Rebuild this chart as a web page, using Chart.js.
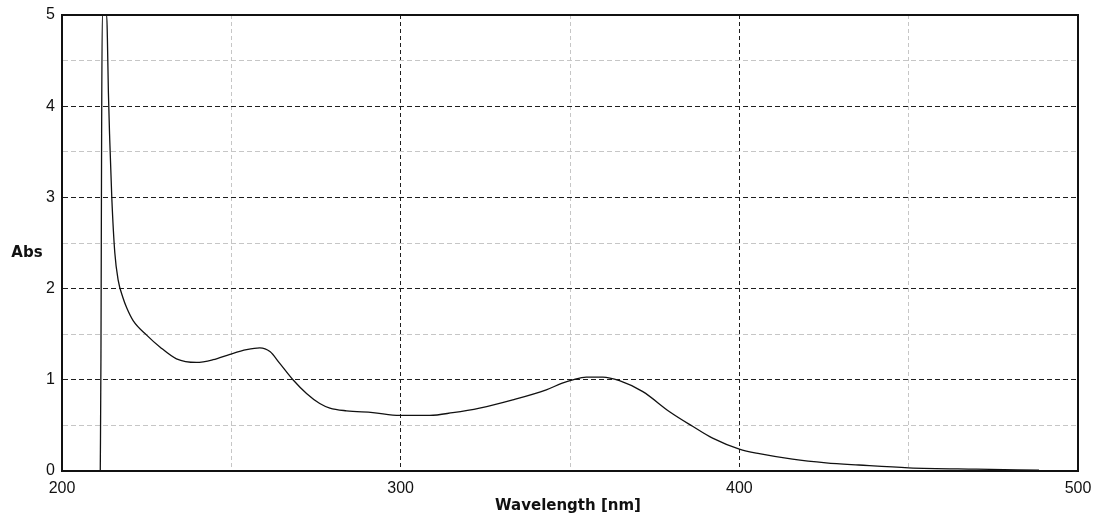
<!DOCTYPE html>
<html>
<head>
<meta charset="utf-8">
<script src="https://cdn.jsdelivr.net/npm/chart.js@4/dist/chart.umd.min.js"></script>
<style>
  html, body { margin: 0; padding: 0; background: #fff; }
  #wrap { width: 1095px; height: 516px; }
</style>
</head>
<body>
<div id="wrap"><canvas id="spectrum" width="1095" height="516"></canvas></div>
<script>
// Absorption spectrum: wavelength (nm) and absorbance
const wavelengths = [
  211.3, 211.5, 211.7, 211.9, 213.2, 213.4, 213.7, 214.1, 214.7, 215.6,
  216.6, 218.0, 219.1, 221.0, 225.0, 228.9, 233.8, 239.7, 244.6, 249.6,
  254.5, 258.4, 261.4, 264.3, 268.2, 272.2, 276.1, 279.1, 284.0, 291.8,
  299.7, 308.6, 315.4, 323.3, 333.1, 343.0, 347.5, 350.8, 354.8, 359.7,
  364.6, 371.5, 379.4, 386.2, 392.1, 400.0, 405.9, 415.7, 425.6, 435.3,
  450.0, 470.0, 488.5
];
const absorbance = [
  0.00, 1.24, 3.70, 5.00, 5.00, 4.75, 4.15, 3.63, 3.00, 2.39,
  2.09, 1.90, 1.79, 1.65, 1.49, 1.36, 1.23, 1.19, 1.22, 1.28,
  1.33, 1.35, 1.31, 1.18, 1.00, 0.85, 0.74, 0.69, 0.66, 0.64,
  0.61, 0.61, 0.64, 0.69, 0.78, 0.89, 0.96, 1.00, 1.03, 1.03,
  0.99, 0.87, 0.65, 0.49, 0.36, 0.24, 0.19, 0.13, 0.09, 0.066,
  0.035, 0.02, 0.01
];

// Axis ranges and labelled ticks
const xRange = [200, 500];
const yRange = [0, 5];
const xLabelTicks = [200, 300, 400, 500];
const yLabelTicks = [0, 1, 2, 3, 4, 5];
const xTitle = 'Wavelength [nm]';
const yTitle = 'Abs';

const points = wavelengths.map((w, i) => ({ x: w, y: absorbance[i] }));

const majorColor = '#1e1e1e';
const minorColor = '#c6c6c6';

// Frame around the plot area plus the two axis titles
const framePlugin = {
  id: 'frame',
  afterDraw(chart) {
    const { ctx, chartArea: a } = chart;
    ctx.save();
    ctx.strokeStyle = '#111';
    ctx.lineWidth = 2;
    ctx.strokeRect(a.left, a.top, a.right - a.left, a.bottom - a.top);
    ctx.fillStyle = '#111';
    ctx.font = 'bold 15px "DejaVu Sans", sans-serif';
    ctx.textAlign = 'center';
    ctx.textBaseline = 'middle';
    ctx.fillText(yTitle, a.left - 35, (a.top + a.bottom) / 2 + 10);
    ctx.fillText(xTitle, (a.left + a.right) / 2 - 2, a.bottom + 35);
    ctx.restore();
  }
};

new Chart(document.getElementById('spectrum'), {
  type: 'line',
  data: {
    datasets: [{
      data: points,
      borderColor: '#111',
      borderWidth: 1.3,
      pointRadius: 0,
      fill: false,
      cubicInterpolationMode: 'monotone'
    }]
  },
  options: {
    responsive: false,
    animation: false,
    devicePixelRatio: 1,
    layout: { padding: { top: 15, right: 17, left: 0, bottom: 0 } },
    plugins: { legend: { display: false }, tooltip: { enabled: false } },
    scales: {
      x: {
        type: 'linear',
        min: xRange[0],
        max: xRange[1],
        afterFit(scale) {
          scale.height = 45;
          scale.paddingLeft = 0;
          scale.paddingRight = 0;
        },
        ticks: {
          stepSize: 50,
          autoSkip: false,
          maxRotation: 0,
          padding: 8,
          color: '#111',
          font: { family: '"Liberation Sans", Arial, sans-serif', size: 16 },
          callback: v => xLabelTicks.includes(v) ? String(v) : ''
        },
        grid: {
          drawTicks: false,
          lineWidth: 1,
          color: c => (c.tick && xLabelTicks.includes(c.tick.value)) ? majorColor : minorColor
        },
        border: {
          color: '#111',
          width: 2,
          dash: c => c.tick ? [4, 3] : []
        }
      },
      y: {
        type: 'linear',
        min: yRange[0],
        max: yRange[1],
        afterFit(scale) {
          scale.width = 62;
          scale.paddingTop = 0;
          scale.paddingBottom = 0;
        },
        ticks: {
          stepSize: 0.5,
          autoSkip: false,
          padding: 7,
          color: '#111',
          font: { family: '"Liberation Sans", Arial, sans-serif', size: 16 },
          callback: v => yLabelTicks.includes(v) ? String(v) : ''
        },
        grid: {
          drawTicks: false,
          lineWidth: 1,
          color: c => (c.tick && yLabelTicks.includes(c.tick.value)) ? majorColor : minorColor
        },
        border: {
          color: '#111',
          width: 2,
          dash: c => c.tick ? [5, 3] : []
        }
      }
    }
  },
  plugins: [framePlugin]
});
</script>
</body>
</html>
